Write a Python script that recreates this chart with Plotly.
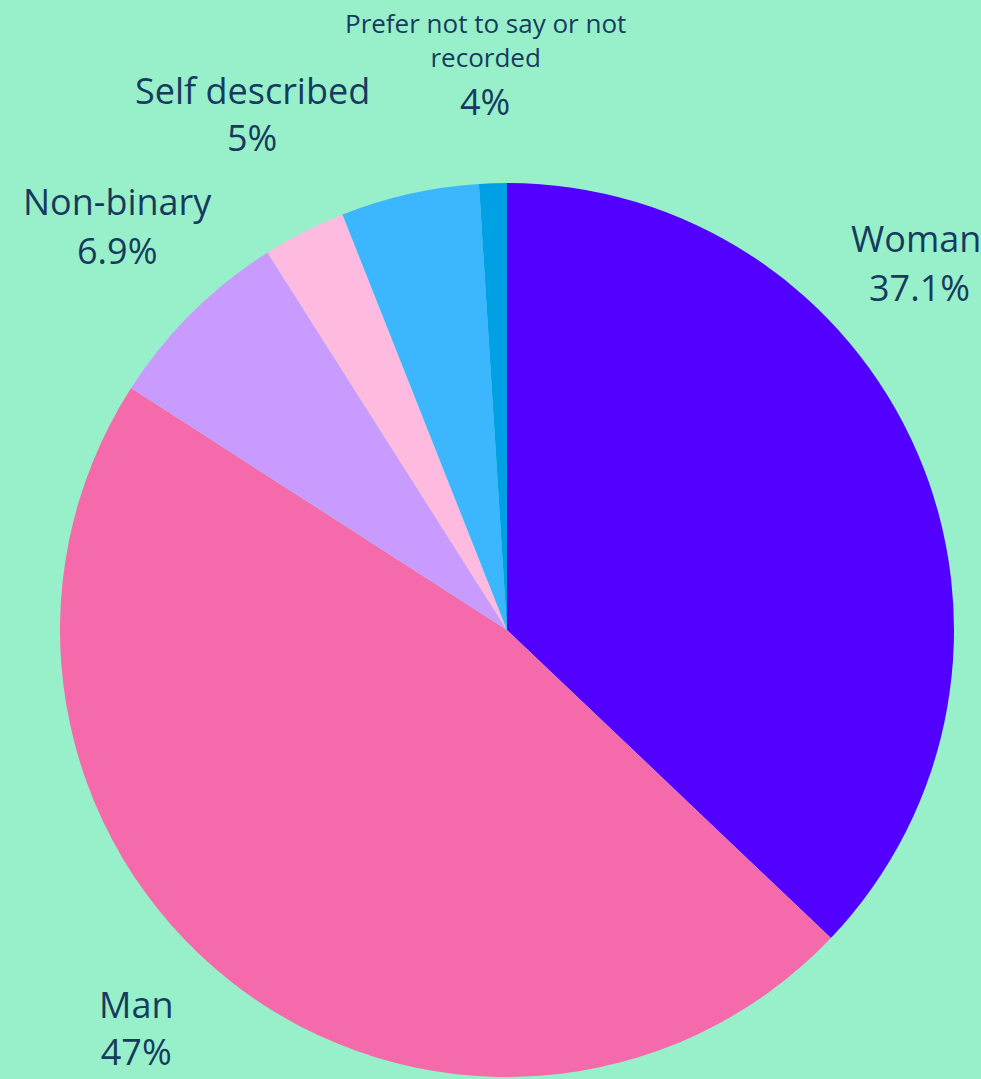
import plotly.graph_objects as go

# ---- data ----
slice_names = ["Woman", "Man", "Non-binary", "Self described", "Prefer not to say", "Not recorded"]
slice_values = [37.1, 47.0, 6.9, 3.0, 5.0, 1.0]
slice_colors = ["#5200FF", "#F46AAB", "#C99BFF", "#FFBBDF", "#3CB6FF", "#00A0E4"]

label_names = ["Woman", "Man", "Non-binary", "Self described", "Prefer not to say or not<br>recorded"]
label_pcts = ["37.1%", "47%", "6.9%", "5%", "4%"]

# ---- layout helpers (pixel positions of label text) ----
W, H = 981, 1079
BG = "#98F0CA"
TXT = "#173B5E"
FONT = "Open Sans"

name_pos = [(916, 238), None, (117, 202), (252, 90), (485, 40)]
pct_pos = [(919, 287), None, (117, 250), (252, 138), (485, 101)]
name_sizes = [36, 36, 36, 36, 26]
PCT_SIZE = 36
# the "Man" label sits at the bottom edge: drawn as one block anchored to the bottom
block_x, block_bottom = 136, 1077

cx, cy, r = 507, 630, 447

fig = go.Figure(go.Pie(
    labels=slice_names,
    values=slice_values,
    marker=dict(colors=slice_colors, line=dict(width=0)),
    sort=False,
    direction="clockwise",
    rotation=0,
    textinfo="none",
    hoverinfo="label+percent",
    showlegend=False,
    domain=dict(x=[(cx - r) / W, (cx + r) / W], y=[(H - cy - r) / H, (H - cy + r) / H]),
))

annotations = []
for name, pct, npos, ppos, fs in zip(label_names, label_pcts, name_pos, pct_pos, name_sizes):
    if npos is None:
        annotations.append(dict(text=f"{name}<br>{pct}", x=block_x / W, y=1 - block_bottom / H,
                                xref="paper", yref="paper", xanchor="center", yanchor="bottom",
                                showarrow=False, borderpad=0,
                                font=dict(family=FONT, size=fs, color=TXT)))
        continue
    (nx, ny), (px, py) = npos, ppos
    annotations.append(dict(text=name, x=nx / W, y=1 - ny / H, xref="paper", yref="paper",
                            xanchor="center", yanchor="middle", showarrow=False,
                            font=dict(family=FONT, size=fs, color=TXT)))
    annotations.append(dict(text=pct, x=px / W, y=1 - py / H, xref="paper", yref="paper",
                            xanchor="center", yanchor="middle", showarrow=False,
                            font=dict(family=FONT, size=PCT_SIZE, color=TXT)))

fig.update_layout(
    width=W, height=H,
    margin=dict(l=0, r=0, t=0, b=0),
    paper_bgcolor=BG, plot_bgcolor=BG,
    annotations=annotations,
)

fig.write_html("out.html",
               config={"displayModeBar": False},
               post_script="document.body.style.margin='0';document.body.style.overflow='hidden';")
